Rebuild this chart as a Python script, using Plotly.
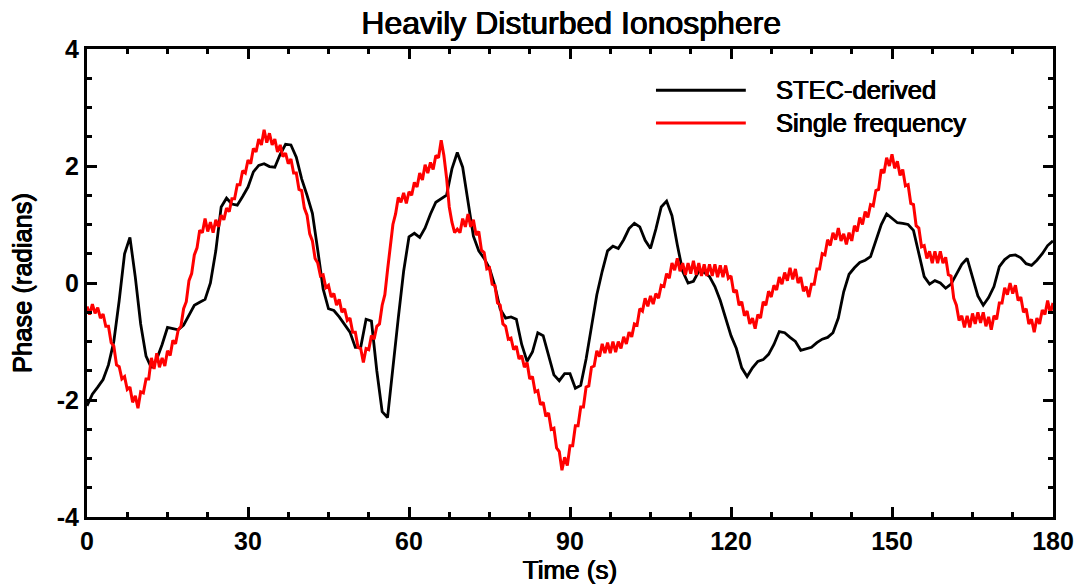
import numpy as np
import plotly.graph_objects as go

# ---- data ----
time_black = np.arange(0, 181, 1.0)
stec_derived = [
    -2.10, -1.90, -1.78, -1.65, -1.40, -1.00, -0.30, 0.50, 0.78, 0.10,
    -0.70, -1.25, -1.45, -1.30, -1.05, -0.76, -0.78, -0.80, -0.72, -0.55,
    -0.38, -0.33, -0.28, 0.00, 0.55, 1.30, 1.45, 1.35, 1.33, 1.48,
    1.64, 1.90, 2.01, 2.04, 1.99, 1.98, 2.20, 2.37, 2.36, 2.15,
    1.78, 1.50, 1.19, 0.56, -0.10, -0.44, -0.47, -0.58, -0.70, -0.84,
    -1.10, -1.10, -0.62, -0.65, -1.50, -2.20, -2.30, -1.40, -0.60, 0.20,
    0.79, 0.85, 0.78, 0.94, 1.18, 1.38, 1.44, 1.50, 1.95, 2.23,
    1.98, 1.40, 0.80, 0.55, 0.42, 0.25, -0.05, -0.45, -0.60, -0.58,
    -0.62, -1.05, -1.34, -1.18, -0.85, -0.90, -1.25, -1.57, -1.67, -1.55,
    -1.55, -1.80, -1.75, -1.30, -0.75, -0.20, 0.20, 0.55, 0.63, 0.59,
    0.74, 0.93, 1.02, 0.96, 0.73, 0.59, 0.92, 1.30, 1.40, 1.15,
    0.65, 0.20, 0.00, 0.03, 0.20, 0.18, 0.11, -0.06, -0.30, -0.62,
    -0.90, -1.12, -1.45, -1.60, -1.45, -1.34, -1.31, -1.22, -1.05, -0.83,
    -0.85, -0.93, -1.00, -1.15, -1.13, -1.10, -1.02, -0.96, -0.93, -0.85,
    -0.60, -0.15, 0.15, 0.26, 0.35, 0.39, 0.45, 0.73, 1.00, 1.18,
    1.10, 1.03, 1.02, 1.00, 0.90, 0.51, 0.11, -0.02, 0.04, 0.00,
    -0.09, -0.02, 0.15, 0.32, 0.42, 0.10, -0.22, -0.38, -0.25, -0.06,
    0.28, 0.40, 0.47, 0.48, 0.43, 0.33, 0.30, 0.39, 0.50, 0.64,
    0.72,
]

time_red = np.arange(0, 180.25, 0.5)
single_frequency = [
    -0.40, -0.54, -0.36, -0.52, -0.42, -0.60, -0.53, -0.74, -0.74, -1.02,
    -1.08, -1.40, -1.43, -1.64, -1.60, -1.82, -1.78, -2.04, -1.93, -2.14,
    -1.86, -1.88, -1.64, -1.64, -1.28, -1.47, -1.20, -1.44, -1.28, -1.42,
    -1.16, -1.24, -0.98, -1.04, -0.80, -0.74, -0.44, -0.32, 0.04, 0.16,
    0.48, 0.60, 0.90, 0.86, 1.10, 0.88, 1.04, 0.86, 1.08, 0.96,
    1.16, 1.08, 1.28, 1.22, 1.44, 1.44, 1.68, 1.68, 1.92, 1.88,
    2.10, 2.04, 2.30, 2.24, 2.46, 2.36, 2.62, 2.40, 2.56, 2.36,
    2.46, 2.24, 2.36, 2.16, 2.22, 2.04, 2.12, 1.88, 1.88, 1.60,
    1.58, 1.28, 1.16, 0.84, 0.72, 0.42, 0.34, 0.12, 0.14, -0.08,
    -0.04, -0.24, -0.18, -0.38, -0.28, -0.50, -0.44, -0.64, -0.60, -0.84,
    -0.84, -1.10, -1.12, -1.36, -1.12, -1.14, -0.90, -0.96, -0.74, -0.70,
    -0.38, -0.20, 0.22, 0.58, 1.00, 1.18, 1.46, 1.38, 1.54, 1.36,
    1.56, 1.50, 1.72, 1.64, 1.88, 1.76, 2.02, 1.88, 2.06, 1.94,
    2.18, 2.14, 2.44, 2.18, 1.80, 1.30, 1.04, 0.86, 0.92, 0.86,
    1.10, 0.96, 1.18, 0.96, 1.08, 0.82, 0.88, 0.56, 0.52, 0.24,
    0.26, -0.02, -0.04, -0.34, -0.38, -0.70, -0.74, -0.96, -0.94, -1.14,
    -1.08, -1.30, -1.24, -1.44, -1.36, -1.64, -1.60, -1.86, -1.84, -2.08,
    -2.04, -2.28, -2.22, -2.50, -2.48, -2.82, -2.88, -3.20, -2.98, -3.12,
    -2.78, -2.78, -2.44, -2.44, -2.12, -2.12, -1.78, -1.76, -1.44, -1.42,
    -1.16, -1.26, -1.04, -1.20, -1.02, -1.20, -1.00, -1.18, -1.00, -1.12,
    -0.92, -1.04, -0.84, -0.92, -0.70, -0.72, -0.44, -0.48, -0.26, -0.40,
    -0.22, -0.36, -0.18, -0.26, -0.04, -0.06, 0.16, 0.08, 0.34, 0.22,
    0.42, 0.20, 0.34, 0.14, 0.34, 0.16, 0.38, 0.14, 0.34, 0.12,
    0.32, 0.12, 0.32, 0.12, 0.32, 0.10, 0.30, 0.10, 0.30, 0.08,
    0.12, -0.16, -0.12, -0.38, -0.32, -0.56, -0.48, -0.70, -0.60, -0.78,
    -0.54, -0.60, -0.32, -0.38, -0.14, -0.24, -0.04, -0.12, 0.10, -0.02,
    0.18, 0.04, 0.26, 0.06, 0.24, 0.00, 0.10, -0.14, -0.06, -0.24,
    -0.02, -0.02, 0.24, 0.24, 0.50, 0.48, 0.74, 0.64, 0.86, 0.74,
    0.94, 0.72, 0.84, 0.66, 0.86, 0.72, 0.98, 0.88, 1.12, 1.00,
    1.22, 1.12, 1.34, 1.32, 1.58, 1.60, 1.94, 1.88, 2.14, 2.00,
    2.20, 1.96, 2.08, 1.84, 1.94, 1.66, 1.68, 1.36, 1.34, 0.98,
    0.94, 0.62, 0.64, 0.42, 0.54, 0.34, 0.54, 0.34, 0.54, 0.34,
    0.44, 0.14, 0.12, -0.26, -0.38, -0.64, -0.56, -0.76, -0.56, -0.76,
    -0.52, -0.70, -0.50, -0.68, -0.50, -0.74, -0.58, -0.80, -0.56, -0.62,
    -0.34, -0.34, -0.08, -0.20, 0.00, -0.18, -0.04, -0.30, -0.24, -0.50,
    -0.44, -0.70, -0.62, -0.84, -0.60, -0.70, -0.46, -0.54, -0.30, -0.52,
    -0.34,
]

x_tickvals = [0, 30, 60, 90, 120, 150, 180]
y_tickvals = [-4, -2, 0, 2, 4]
y_ticktext = ["-4", "-2", "0", "2", "4"]
series_names = ["STEC-derived", "Single frequency"]
series_colors = ["#000000", "#ff0000"]

FONT = "Arial, Liberation Sans, sans-serif"
THICK = "0.45px 0 0 black, -0.45px 0 0 black, 0 0.3px 0 black"


def txt(size):
    return dict(family=FONT, size=size, color="black", shadow=THICK)


fig = go.Figure()
fig.add_trace(go.Scatter(x=time_black, y=stec_derived, mode="lines",
                         name=series_names[0],
                         line=dict(color=series_colors[0], width=2.8)))
fig.add_trace(go.Scatter(x=time_red, y=single_frequency, mode="lines",
                         name=series_names[1],
                         line=dict(color=series_colors[1], width=3)))

axis_common = dict(
    showgrid=False, zeroline=False, showline=True, linecolor="black",
    linewidth=3, mirror="ticks", ticks="inside", ticklen=10, tickwidth=2.5,
    tickcolor="black",
    tickfont=dict(family=FONT, size=25, color="black", weight="bold"),
)

fig.update_xaxes(range=[0, 180], tickvals=x_tickvals,
                 minor=dict(ticks="inside", ticklen=5, tickwidth=2.5,
                            dtick=7.5, tickcolor="black"),
                 title=dict(text="Time (s)", font=txt(26), standoff=2),
                 **axis_common)
fig.update_yaxes(range=[-4, 4], tickvals=y_tickvals, ticktext=y_ticktext,
                 minor=dict(ticks="inside", ticklen=5, tickwidth=2.5,
                            dtick=0.5, tickcolor="black"),
                 title=dict(text="Phase (radians)", font=txt(25.5), standoff=18),
                 **axis_common)

# legend drawn as layout decoration
legend_y = [0.912, 0.842]
for i in range(2):
    fig.add_shape(type="line", xref="paper", yref="paper",
                  x0=0.589, x1=0.682, y0=legend_y[i], y1=legend_y[i],
                  line=dict(color=series_colors[i], width=3))
    fig.add_annotation(xref="paper", yref="paper", x=0.711, y=legend_y[i],
                       text=series_names[i], showarrow=False,
                       xanchor="left", yanchor="middle",
                       font=txt(25.5))

fig.update_layout(
    width=1086, height=588,
    margin=dict(l=87, r=30, t=49, b=71),
    paper_bgcolor="white", plot_bgcolor="white",
    showlegend=False,
    title=dict(text="Heavily Disturbed Ionosphere", x=0.526, xanchor="center",
               y=0.962, yanchor="middle", font=txt(32)),
)

fig.write_html("out.html")
